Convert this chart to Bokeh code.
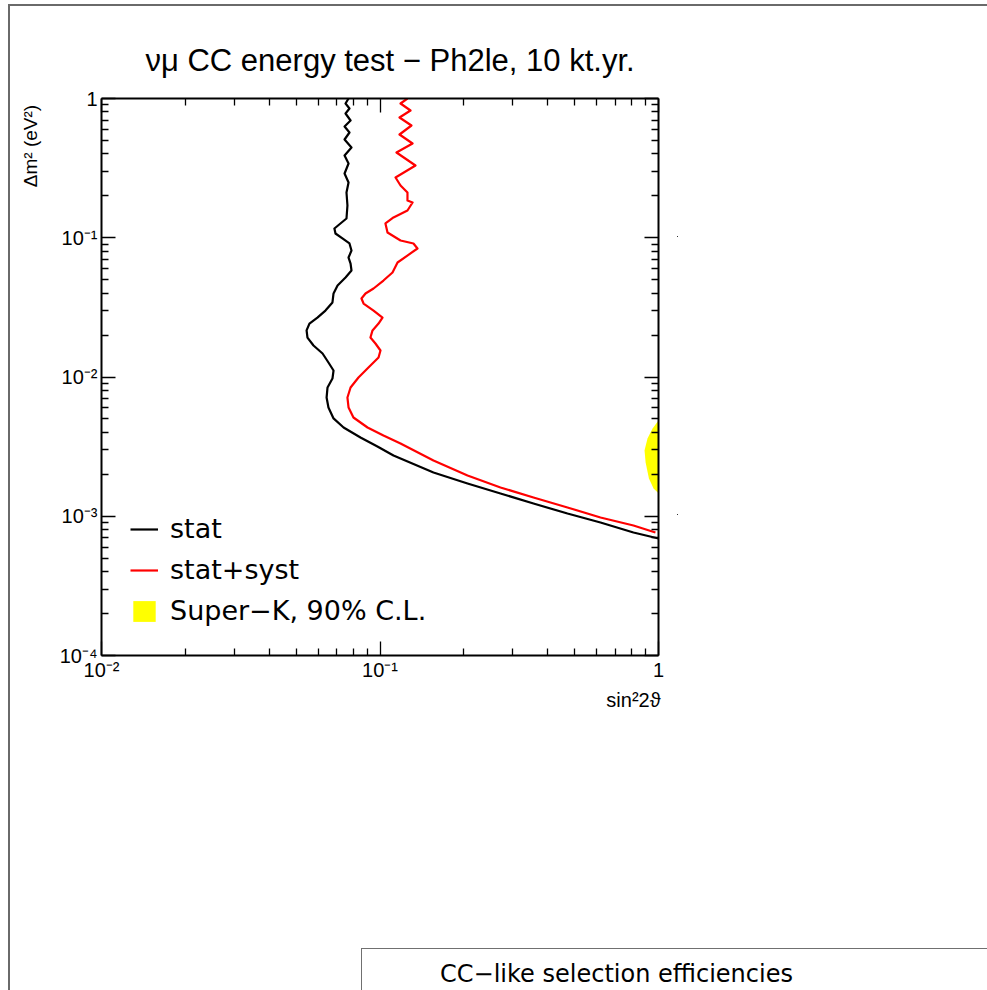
from bokeh.plotting import figure
from bokeh.models import (LogAxis, FixedTicker, Legend, LegendItem, Range1d,
                          CustomJSTickFormatter)
from bokeh.embed import file_html
from bokeh.resources import INLINE

# 90% C.L. exclusion contours: sin^2(2theta) vs Delta m^2 (eV^2)
stat_sin2 = [0.0771, 0.0752, 0.0777, 0.0752, 0.0784, 0.0746, 0.0777, 0.0746,
             0.0790, 0.0746, 0.0771, 0.0746, 0.0771, 0.0758, 0.0764, 0.0758,
             0.0721, 0.0686, 0.0692, 0.0733, 0.0777, 0.0790, 0.0771, 0.0784,
             0.0790, 0.0752, 0.0704, 0.0681, 0.0675, 0.0637, 0.0596, 0.0558,
             0.0545, 0.0549, 0.0577, 0.0622, 0.0653, 0.0681, 0.0675, 0.0648,
             0.0643, 0.0653, 0.0681, 0.0740, 0.0851, 0.0979, 0.1118, 0.1556,
             0.2062, 0.2708, 0.3557, 0.4711, 0.619, 0.813, 1.0]
stat_dm2 = [1.0, 0.9206, 0.8477, 0.7805, 0.6950, 0.6294, 0.5699, 0.5076,
            0.4446, 0.3897, 0.3413, 0.2893, 0.2493, 0.2113, 0.1704, 0.1375,
            0.1266, 0.1165, 0.1073, 0.0988, 0.0910, 0.0810, 0.0721, 0.0653,
            0.0582, 0.0518, 0.0454, 0.0398, 0.0343, 0.0300, 0.0267, 0.0242,
            0.0216, 0.0192, 0.01683, 0.01475, 0.01271, 0.01113, 0.00975, 0.00841,
            0.00712, 0.00604, 0.00504, 0.00434, 0.00368, 0.00317, 0.00273, 0.00206,
            0.00172, 0.001457, 0.001235, 0.001046, 0.000902, 0.000764, 0.000692]

syst_sin2 = [0.1255, 0.1185, 0.1287, 0.1175, 0.1297, 0.1175, 0.1309, 0.1146,
             0.1341, 0.1137, 0.1185, 0.1255, 0.1255, 0.1309, 0.1255, 0.1118,
             0.1046, 0.1064, 0.1185, 0.1319, 0.1363, 0.1287, 0.1156, 0.1109,
             0.1029, 0.0948, 0.0887, 0.0858, 0.0873, 0.0948, 0.1021, 0.0988,
             0.0940, 0.0924, 0.0963, 0.1004, 0.0988, 0.0909, 0.0837, 0.0784,
             0.0764, 0.0771, 0.0803, 0.0902, 0.1029, 0.1185, 0.1556, 0.2062,
             0.2708, 0.3557, 0.4711, 0.619, 0.813, 0.975]
syst_dm2 = [1.0, 0.9206, 0.8200, 0.7305, 0.6399, 0.5514, 0.4752, 0.4094,
            0.3303, 0.2708, 0.2372, 0.2113, 0.1851, 0.1791, 0.1569, 0.1398,
            0.1266, 0.1091, 0.0956, 0.0910, 0.0837, 0.0771, 0.0664, 0.0563,
            0.0493, 0.0432, 0.0398, 0.0366, 0.0337, 0.0300, 0.0267, 0.0242,
            0.0216, 0.0192, 0.0174, 0.01550, 0.01380, 0.01170, 0.00992, 0.00841,
            0.00712, 0.00604, 0.00512, 0.00434, 0.00380, 0.00333, 0.00251, 0.00196,
            0.00161, 0.001363, 0.001156, 0.000980, 0.000858, 0.000764]

# Super-Kamiokande 90% C.L. allowed region (edge near maximal mixing)
sk_sin2 = [1.0, 0.952, 0.913, 0.891, 0.899, 0.924, 0.960, 1.0]
sk_dm2 = [4.87e-3, 4.27e-3, 3.61e-3, 2.97e-3, 2.43e-3, 1.87e-3, 1.58e-3, 1.46e-3]

# axis decades and their printed labels
x_decades = [1e-2, 1e-1, 1.0]
x_tick_labels = ["10⁻²", "10⁻¹", "1"]
y_decades = [1e-4, 1e-3, 1e-2, 1e-1, 1.0]
y_tick_labels = ["10⁻⁴", "10⁻³", "10⁻²", "10⁻¹", "1"]

title_text = "νμ CC energy test − Ph2le, 10 kt.yr."
x_title = "sin²2ϑ"
y_title = "Δm² (eV²)"
legend_labels = ["stat", "stat+syst", "Super−K, 90% C.L."]
next_title = "CC−like selection efficiencies"

HELV = "Liberation Sans"
ROUND = "DejaVu Sans"
EM, EN = "\u2003", "\u2002"   # fixed-width spaces used to shift centred labels

p = figure(width=987, height=990, x_axis_type="log", y_axis_type="log",
           x_range=Range1d(1e-2, 1.0), y_range=Range1d(1e-4, 1.0),
           min_border_left=101, min_border_right=329,
           min_border_top=98, min_border_bottom=335,
           output_backend="svg", toolbar_location=None, title=title_text)
p.grid.visible = False
p.outline_line_color = None
p.background_fill_color = "white"
p.border_fill_color = None

# page frame, the edge of the neighbouring panel and two stray marks,
# drawn as a CSS background behind the transparent canvas border
page_marks = [  # (x, y, w, h, colour)
    (8, 4, 2, 990, "#6a6a6a"),
    (8, 4, 990, 2, "#6a6a6a"),
    (361, 948, 1, 60, "#707070"),
    (361, 948, 640, 1, "#707070"),
    (677, 236, 1, 1, "#333333"),
    (677, 514, 1, 1, "#333333"),
]
p.styles = {
    "background-color": "white",
    "background-image": ",".join(f"linear-gradient({c},{c})" for *_, c in page_marks),
    "background-size": ",".join(f"{w}px {h}px" for _, _, w, h, _ in page_marks),
    "background-position": ",".join(f"{x}px {y}px" for x, y, _, _, _ in page_marks),
    "background-repeat": "no-repeat",
}

p.title.text_font = HELV
p.title.text_font_size = "31px"
p.title.text_font_style = "normal"
p.title.text_color = "black"
p.title.align = "left"
p.title.offset = 44
p.title.standoff = 41

left_ax = p.left[0]
bottom_ax = p.below[0]
top_ax = LogAxis()
right_ax = LogAxis()
next_ax = LogAxis()
p.add_layout(top_ax, "above")
p.add_layout(right_ax, "right")
p.add_layout(next_ax, "below")


def minor_list(decades):
    out = []
    for d in decades[:-1]:
        out += [m * d for m in range(2, 10)]
    return out


def label_formatter(values, texts):
    return CustomJSTickFormatter(args=dict(vals=values, texts=texts), code="""
        for (let i = 0; i < vals.length; i++) {
            if (Math.abs(Math.log10(tick) - Math.log10(vals[i])) < 1e-6) {
                return texts[i];
            }
        }
        return "";
    """)


for ax in (bottom_ax, top_ax):
    ax.ticker = FixedTicker(ticks=x_decades, minor_ticks=minor_list(x_decades))
for ax in (left_ax, right_ax):
    ax.ticker = FixedTicker(ticks=y_decades, minor_ticks=minor_list(y_decades))
for ax in (bottom_ax, top_ax, left_ax, right_ax):
    ax.axis_line_width = 2
    ax.axis_line_color = "black"
    ax.major_tick_in = 14
    ax.major_tick_out = 0
    ax.minor_tick_in = 7
    ax.minor_tick_out = 0
    ax.major_tick_line_width = 1.3
    ax.minor_tick_line_width = 1.3
    ax.major_tick_line_color = "black"
    ax.minor_tick_line_color = "black"
    ax.major_label_text_font = HELV
    ax.major_label_text_font_size = "20px"
    ax.major_label_text_color = "black"
    ax.axis_label_text_font = HELV
    ax.axis_label_text_font_style = "normal"
    ax.axis_label_text_color = "black"

for ax in (top_ax, right_ax):
    ax.formatter = CustomJSTickFormatter(code="return '';")
    ax.major_label_standoff = 0

left_ax.formatter = label_formatter(y_decades, y_tick_labels)
left_ax.major_label_standoff = 4
left_ax.axis_label = y_title + EM * 5
left_ax.axis_label_text_font_size = "19px"
left_ax.axis_label_standoff = 16

bottom_ax.formatter = label_formatter(x_decades, x_tick_labels)
bottom_ax.major_label_standoff = 3
bottom_ax.axis_label = x_title + EM * 2 + EN
bottom_ax.axis_label_text_font_size = "20px"
bottom_ax.axis_label_standoff = 5

# bare axis below carrying the heading of the next panel
next_ax.ticker = FixedTicker(ticks=[])
next_ax.formatter = CustomJSTickFormatter(code="return '';")
next_ax.axis_line_color = None
next_ax.major_tick_line_color = None
next_ax.minor_tick_line_color = None
next_ax.major_label_standoff = 0
next_ax.axis_label = next_title + EM * 3 + EN
next_ax.axis_label_text_font = ROUND
next_ax.axis_label_text_font_style = "normal"
next_ax.axis_label_text_font_size = "24px"
next_ax.axis_label_text_color = "black"
next_ax.axis_label_standoff = 246

for ax in (left_ax, bottom_ax, next_ax):
    ax.axis_label_align = "end"

# contours
r_sk = p.patch(sk_sin2, sk_dm2, fill_color="#ffff00", line_color=None)
r_stat = p.line(stat_sin2, stat_dm2, line_color="black", line_width=2.2,
                line_join="round")
r_syst = p.line(syst_sin2, syst_dm2, line_color="#ff0000", line_width=2.2,
                line_join="round")
# solid swatch for the Super-K entry
r_sk_key = p.line([], [], line_color="#ffff00", line_width=26, line_cap="butt")

legend = Legend(items=[LegendItem(label=legend_labels[0], renderers=[r_stat]),
                       LegendItem(label=legend_labels[1], renderers=[r_syst]),
                       LegendItem(label=legend_labels[2], renderers=[r_sk, r_sk_key])],
                location=(29, 29), glyph_width=28, glyph_height=26,
                label_height=26, label_standoff=12, spacing=10, padding=0,
                margin=0, border_line_color=None, background_fill_alpha=0,
                label_text_font=ROUND, label_text_font_size="27px",
                label_text_color="black")
p.add_layout(legend)

open("out.html", "w").write(file_html(p, INLINE))
